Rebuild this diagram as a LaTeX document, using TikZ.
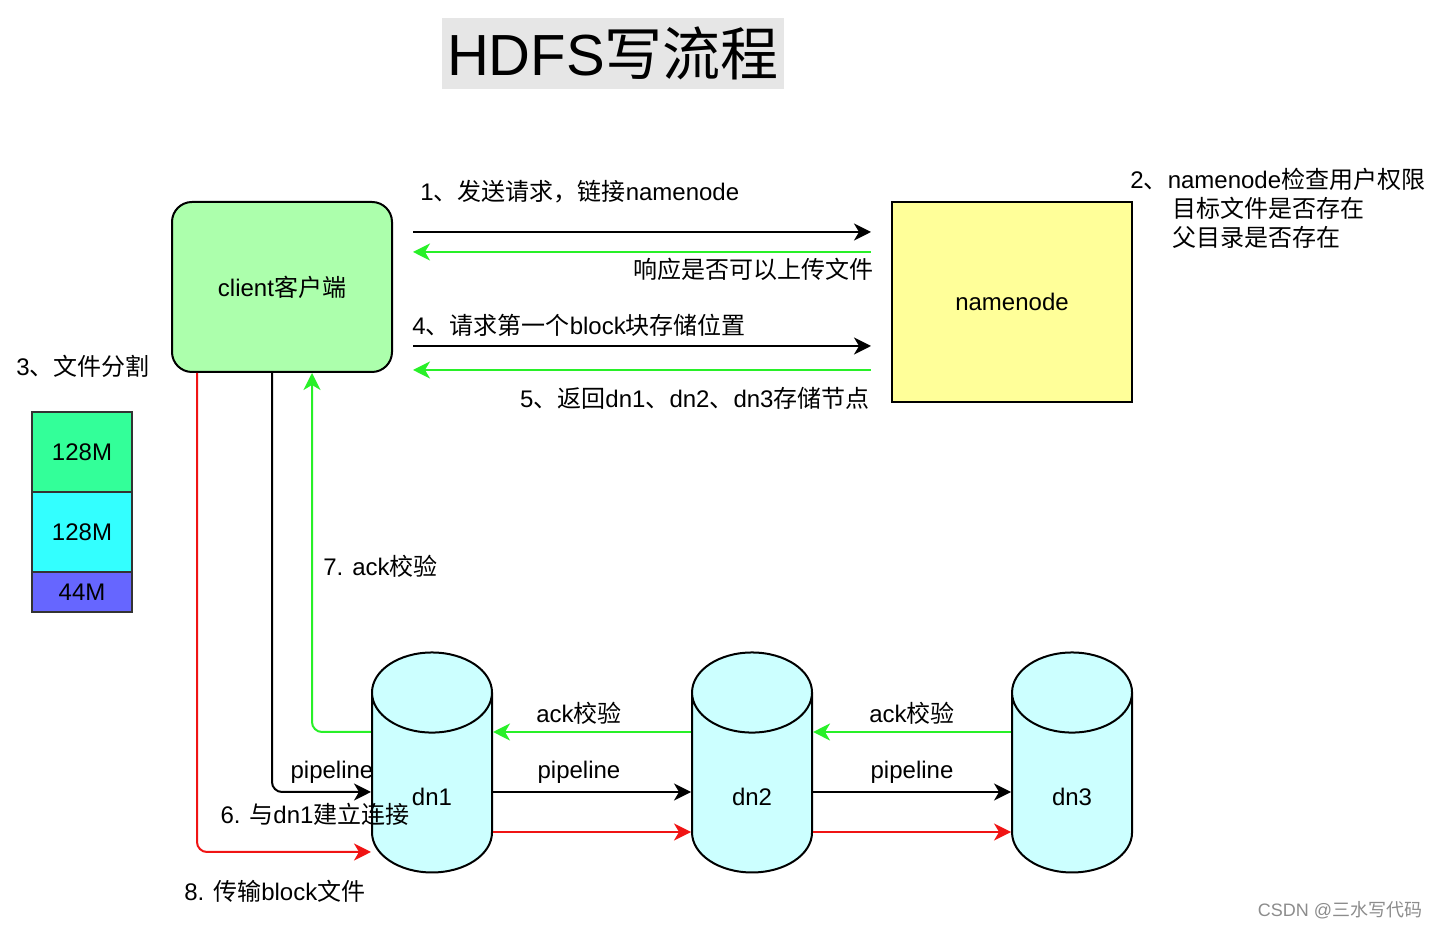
\documentclass[tikz,border=0pt]{standalone}
\usepackage{fontspec}
\setmainfont{Liberation Sans}
\newfontfamily\zh{Noto Sans CJK SC}
\usetikzlibrary{shapes.geometric, arrows.meta, positioning}
\definecolor{clientgreen}{RGB}{172,255,172}
\definecolor{nnyellow}{RGB}{255,255,153}
\definecolor{dncyan}{RGB}{204,255,255}
\definecolor{ackgreen}{RGB}{40,240,40}
\definecolor{sendred}{RGB}{240,20,20}
\definecolor{blkgreen}{RGB}{51,255,153}
\definecolor{blkcyan}{RGB}{51,255,255}
\definecolor{blkblue}{RGB}{102,102,255}
\definecolor{titlegray}{RGB}{230,230,230}

\begin{document}
\begin{tikzpicture}[
  x=0.5pt, y=-0.5pt,
  every node/.style = {font=\fontsize{12}{14.5}\selectfont, inner sep=0pt},
  box/.style = {
    rectangle, draw=black, fill=#1,
    line width=1pt, align=center
  },
  blk/.style = {
    rectangle, draw=black!80, fill=#1, outer sep=0pt,
    minimum width=50pt, line width=1pt
  },
  cyl/.style = {
    cylinder, shape border rotate=90, aspect=2.0,
    draw=black, fill=dncyan, line width=1pt,
    minimum width=60pt, minimum height=110pt
  },
  arr/.style = {-{Stealth[length=8.5pt, width=8.5pt, inset=2.5pt]}, line width=1pt, draw=#1},
  arr/.default = black,
  lbl/.style = {align=left}
]
\useasboundingbox (0,0) rectangle (1441,929);

% ---- TITLE ----
\node[fill=titlegray, minimum width=171pt, minimum height=35.5pt,
  font=\fontsize{29}{34}\selectfont] (title) at (613,53.5) {HDFS{\zh 写流程}};

% ---- CLIENT + NAMENODE ----
\node[box=clientgreen, rounded corners=10pt, minimum width=110pt, minimum height=85pt]
  (client) at (282,287) {client{\zh 客户端}};
\node[box=nnyellow, minimum width=120pt, minimum height=100pt]
  (nn) at (1012,302) {namenode};

% ---- FILE SPLIT ----
\node[lbl, anchor=west] (split) at (16,366) {3{\zh 、文件分割}};
\node[blk=blkgreen, minimum height=40pt] (b1) at (82,452) {128M};
\node[blk=blkcyan, minimum height=40pt, below=0pt of b1] (b2) {128M};
\node[blk=blkblue, minimum height=20pt, below=0pt of b2] (b3) {44M};

% ---- DATANODES ----
\node[cyl] (dn1) at (432,783) {\rule{0pt}{23pt}dn1};
\node[cyl, right=99pt of dn1] (dn2) {\rule{0pt}{23pt}dn2};
\node[cyl, right=99pt of dn2] (dn3) {\rule{0pt}{23pt}dn3};

% ---- CLIENT <-> NAMENODE ----
\draw[arr] ([shift={(20,-55)}]client.east) -- ([shift={(-20,-70)}]nn.west);
\node[lbl, anchor=west] (l1) at (420,192) {1{\zh 、发送请求，链接}namenode};

\draw[arr=ackgreen] ([shift={(-20,-50)}]nn.west) -- ([shift={(20,-35)}]client.east);
\node[lbl, anchor=east] (l1r) at (874,269) {\zh 响应是否可以上传文件};

\draw[arr] ([shift={(20,59)}]client.east) -- ([shift={(-20,44)}]nn.west);
\node[lbl, anchor=west] (l4) at (412,325) {4{\zh 、请求第一个}block{\zh 块存储位置}};

\draw[arr=ackgreen] ([shift={(-20,68)}]nn.west) -- ([shift={(20,83)}]client.east);
\node[lbl, anchor=east] (l5) at (870,398) {5{\zh 、返回}dn1{\zh 、}dn2{\zh 、}dn3{\zh 存储节点}};

% ---- namenode note ----
\node[lbl, anchor=north west] (l2) at (1130,168)
  {2{\zh 、}namenode{\zh 检查用户权限}\\
   \hspace*{21pt}{\zh 目标文件是否存在}\\
   \hspace*{21pt}{\zh 父目录是否存在}};

% ---- CLIENT -> dn1 ----
\draw[arr, rounded corners=5pt] ([shift={(-10,0)}]client.south) |- ([shift={(0,9)}]dn1.west);
\node (l6a) at (332,772) {pipeline};
\node (l6) at (315,814) {6. {\zh 与}dn1{\zh 建立连接}};

\draw[arr=ackgreen, rounded corners=5pt] ([shift={(0,-51)}]dn1.west) -| ([shift={(30,0)}]client.south);
\node[lbl, anchor=west] (l7) at (323,566) {7. ack{\zh 校验}};

\draw[arr=sendred, rounded corners=5pt] ([shift={(-85,0)}]client.south) |- ([shift={(0,69)}]dn1.west);
\node[lbl, anchor=west] (l8) at (184,891) {8. {\zh 传输}block{\zh 文件}};

% ---- PIPELINE dn1 -> dn2 -> dn3 ----
\draw[arr=ackgreen] ([shift={(0,-51)}]dn2.west) -- ([shift={(0,-51)}]dn1.east);
\draw[arr] ([shift={(0,9)}]dn1.east) -- ([shift={(0,9)}]dn2.west);
\draw[arr=sendred] ([shift={(0,49)}]dn1.east) -- ([shift={(0,49)}]dn2.west);
\node (a12) at (579,713) {ack{\zh 校验}};
\node (p12) at (579,772) {pipeline};

\draw[arr=ackgreen] ([shift={(0,-51)}]dn3.west) -- ([shift={(0,-51)}]dn2.east);
\draw[arr] ([shift={(0,9)}]dn2.east) -- ([shift={(0,9)}]dn3.west);
\draw[arr=sendred] ([shift={(0,49)}]dn2.east) -- ([shift={(0,49)}]dn3.west);
\node (a23) at (912,713) {ack{\zh 校验}};
\node (p23) at (912,772) {pipeline};

% ---- watermark ----
\node[text=black!45, font=\fontsize{9}{11}\selectfont] (wm) at (1340,910) {CSDN @{\zh 三水写代码}};

\end{tikzpicture}
\end{document}
